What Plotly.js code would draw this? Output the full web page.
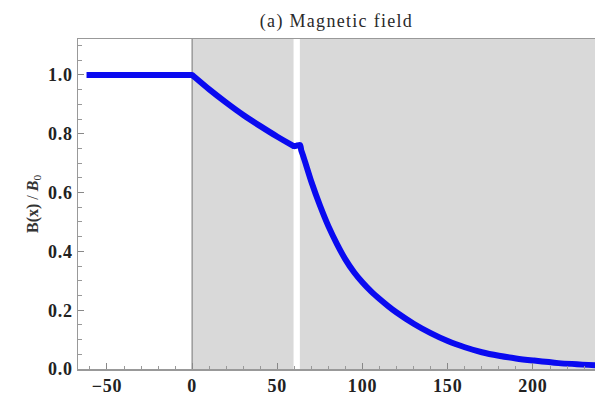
<!DOCTYPE html>
<html>
<head>
<meta charset="utf-8">
<script src="https://cdn.plot.ly/plotly-3.0.1.min.js"></script>
<style>
html,body{margin:0;padding:0;background:#fff;}
#chart{width:595px;height:397px;}
#chart .gtitle{letter-spacing:1.3px;}
#chart .xtick text,#chart .ytick text{letter-spacing:0.8px;}
</style>
</head>
<body>
<div id="chart"></div>
<script>
// Magnetic field profile B(x)/B0
const xOutside = [-62, -40, -20, -1, 0];
const bOutside = [1.0, 1.0, 1.0, 1.0, 1.0];

const xRegion1 = [0, 1, 10, 20, 30, 40, 50, 58.8, 59.8];
const bRegion1 = [1.0, 0.995, 0.951, 0.906, 0.864, 0.826, 0.790, 0.761, 0.758];

const xGap = [59.8, 61.5, 63.3];
const bGap = [0.758, 0.760, 0.762];

const xRegion2 = [63.3, 64, 65, 66.5, 70, 75, 80, 85, 90, 95, 100, 105, 110, 115, 120, 130, 140, 150, 160, 170, 180, 190, 200, 215, 236.5];
const bRegion2 = [0.762, 0.744, 0.727, 0.700, 0.636, 0.556, 0.485, 0.425, 0.372, 0.329, 0.294, 0.264, 0.238, 0.214, 0.192, 0.154, 0.122, 0.095, 0.074, 0.057, 0.045, 0.036, 0.029, 0.020, 0.013];

// shaded regions (x extents)
const shadeA = [0, 59.5];
const shadeB = [63.2, 300];

const xRange = [-67, 236.4];
const yRange = [0, 1.1224];
const yTickVals = [0, 0.2, 0.4, 0.6, 0.8, 1.0];
const xTickVals = [-50, 0, 50, 100, 150, 200];

const xs = xOutside.concat(xRegion1.slice(1), xGap.slice(1), xRegion2.slice(1));
const bs = bOutside.concat(bRegion1.slice(1), bGap.slice(1), bRegion2.slice(1));

const serif = 'Liberation Serif, Times New Roman, serif';
const tickFont = {family: serif, size: 18, color: '#222', weight: 'bold'};

const trace = {
  x: xs, y: bs, type: 'scatter', mode: 'lines',
  line: {color: '#0a0af0', width: 6, shape: 'spline', smoothing: 0.8},
  hoverinfo: 'none', showlegend: false, cliponaxis: false
};

const layout = {
  width: 595, height: 397,
  margin: {l: 78, r: 0, t: 39, b: 28},
  paper_bgcolor: '#ffffff', plot_bgcolor: '#ffffff',
  title: {
    text: '(a) Magnetic field',
    font: {family: serif, size: 18, color: '#2a2a2a'},
    x: 0.5, xref: 'paper', xanchor: 'center',
    y: 1 - 21/397, yref: 'container', yanchor: 'middle'
  },
  xaxis: {
    range: xRange, tickvals: xTickVals, ticktext: xTickVals.map(v => v < 0 ? '\u2212' + Math.abs(v) : String(v)),
    ticks: 'inside', ticklen: 6, tickwidth: 1, tickcolor: '#888',
    minor: {dtick: 10, tick0: 0, ticks: 'inside', ticklen: 3.5, tickcolor: '#999', tickwidth: 1},
    showgrid: false, zeroline: false,
    showline: true, linecolor: '#999', linewidth: 1.5, mirror: true,
    tickfont: tickFont, ticklabelstandoff: 0
  },
  yaxis: {
    range: yRange, tickvals: yTickVals, tickformat: '.1f',
    ticks: 'inside', ticklen: 6, tickwidth: 1, tickcolor: '#888',
    minor: {dtick: 0.05, tick0: 0, ticks: 'inside', ticklen: 3.5, tickcolor: '#999', tickwidth: 1},
    showgrid: false, zeroline: false,
    showline: true, linecolor: '#999', linewidth: 1.5, mirror: false,
    tickfont: tickFont, ticklabelstandoff: 0,
    title: {
      text: '<b>B(x)</b> / <b><i>B</i></b><sub>0</sub>',
      font: {family: serif, size: 16, color: '#333'},
      standoff: 8
    }
  },
  shapes: [
    {type: 'rect', xref: 'x', yref: 'paper', x0: shadeA[0], x1: shadeA[1], y0: 0, y1: 1,
     fillcolor: '#d9d9d9', line: {width: 0}, layer: 'below'},
    {type: 'rect', xref: 'x', yref: 'paper', x0: shadeB[0], x1: shadeB[1], y0: 0, y1: 1,
     fillcolor: '#d9d9d9', line: {width: 0}, layer: 'below'},
    {type: 'line', xref: 'x', yref: 'paper', x0: shadeA[0], x1: shadeA[0], y0: 0, y1: 1,
     line: {color: '#999', width: 1.5}, layer: 'below'}
  ]
};

Plotly.newPlot('chart', [trace], layout, {staticPlot: true, displayModeBar: false});
</script>
</body>
</html>
